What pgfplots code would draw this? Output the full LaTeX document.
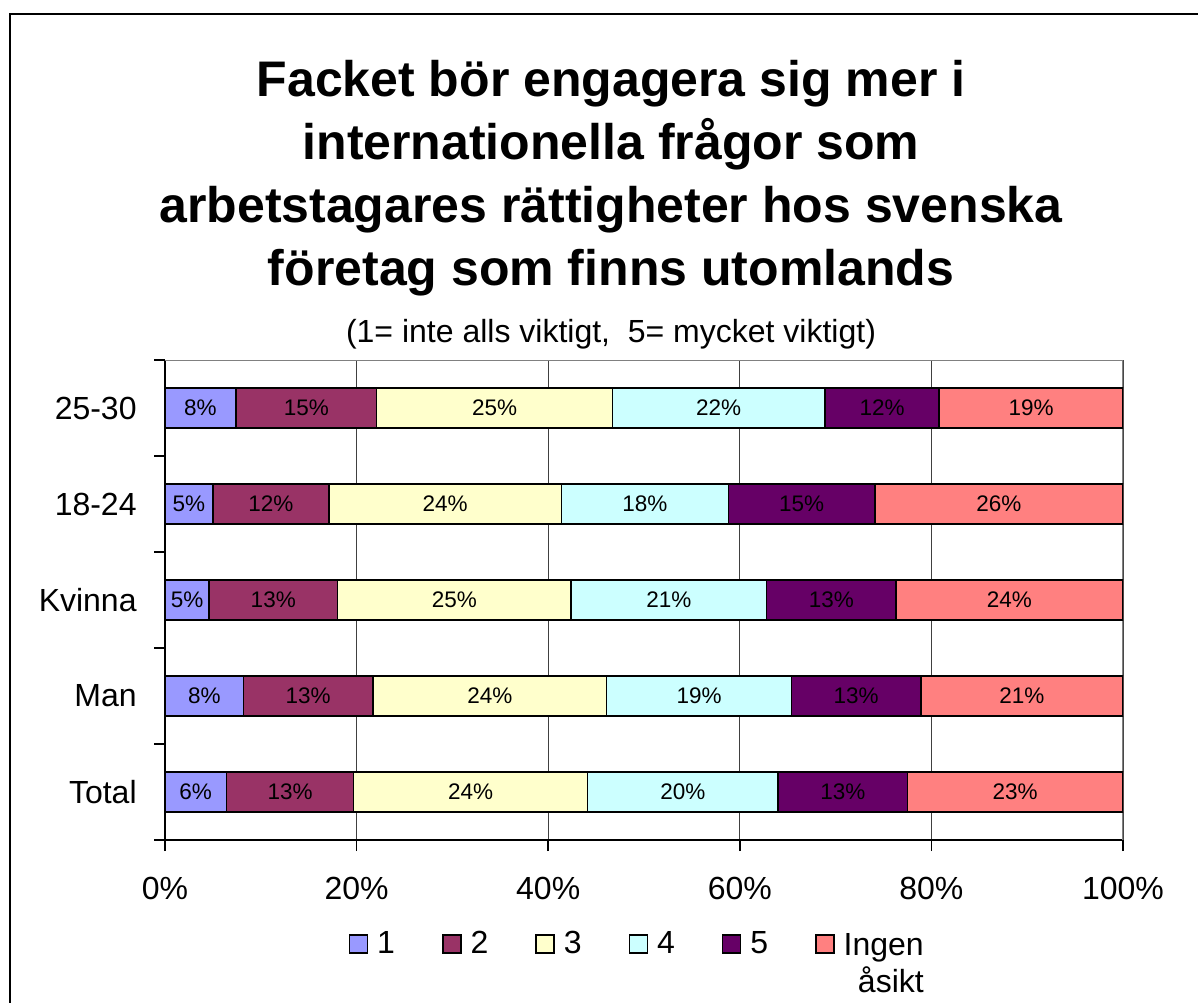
\documentclass[border=0pt]{standalone}
\usepackage{pgfplots}
\pgfplotsset{compat=1.18}
\usepackage{fontspec}
\setmainfont{Liberation Sans}
\definecolor{c1}{HTML}{9999FF}
\definecolor{c2}{HTML}{993366}
\definecolor{c3}{HTML}{FFFFCC}
\definecolor{c4}{HTML}{CCFFFF}
\definecolor{c5}{HTML}{660066}
\definecolor{c6}{HTML}{FF8080}
\definecolor{bordergray}{HTML}{808080}
\pgfplotsset{sqlegend/.style={legend image code/.code={\draw[##1,line width=0.75pt] (0pt,-4.5pt) rectangle (9pt,4.5pt);}}}
\newcommand{\titlefont}{\fontsize{25}{30}\selectfont\bfseries}
\newcommand{\bigfont}{\fontsize{16}{18.5}\selectfont}
\begin{document}
\begin{tikzpicture}
\useasboundingbox (0,0) rectangle (599pt,501pt);
\fill[white] (0,0) rectangle (599pt,501pt);
\draw[line width=1pt] (5pt,-10pt) -- (5pt,494pt) -- (620pt,494pt);
\node[anchor=base,inner sep=0pt,font=\titlefont] at (305.5pt,452.5pt) {Facket bör engagera sig mer i};
\node[anchor=base,inner sep=0pt,font=\titlefont] at (305.5pt,421pt) {internationella frågor som};
\node[anchor=base,inner sep=0pt,font=\titlefont] at (305.5pt,389.5pt) {arbetstagares rättigheter hos svenska};
\node[anchor=base,inner sep=0pt,font=\titlefont] at (305.5pt,358pt) {företag som finns utomlands};
\node[anchor=base,inner sep=0pt,font=\bigfont] at (305.5pt,329.5pt) {(1= inte alls viktigt,\ \ 5= mycket viktigt)};
\begin{axis}[
  at={(82.5pt,81pt)}, anchor=south west,
  scale only axis, width=479pt, height=240pt,
  xbar stacked, bar width=20pt,
  xmin=0, xmax=100, ymin=0, ymax=5,
  axis x line*=bottom, axis y line*=left,
  axis line style={line width=0.75pt, black},
  xtick={0,20,40,60,80,100},
  xticklabels={0\%,20\%,40\%,60\%,80\%,100\%},
  ytick={0,1,2,3,4,5},
  yticklabels={Total,Man,Kvinna,18-24,25-30},
  y tick label as interval,
  tick align=outside, major tick length=5.5pt,
  xtick style={black, line width=0.75pt},
  ytick style={black, line width=0.75pt},
  xmajorgrids, major x grid style={black!75, line width=0.5pt},
  tick label style={font=\bigfont},
  x tick label style={inner sep=0pt, yshift=-13pt},
  y tick label style={inner sep=0pt, xshift=-8.5pt},
  /pgf/number format/assume math mode=true,
  legend columns=6,
  legend style={at={(axis description cs:0.494,-0.178)}, anchor=north, draw=none, fill=none,
    inner sep=0pt, outer sep=0pt, font=\bigfont, column sep=2.5pt,
    /tikz/every even column/.append style={column sep=21.5pt}},
  legend cell align=left,
]
\addplot[fill=c1, draw=black, line width=0.75pt, sqlegend] coordinates {(6.4,0.5) (8.2,1.5) (4.6,2.5) (5.0,3.5) (7.4,4.5)};
\addlegendentry{1}
\addplot[fill=c2, draw=black, line width=0.75pt, sqlegend] coordinates {(13.3,0.5) (13.5,1.5) (13.4,2.5) (12.1,3.5) (14.7,4.5)};
\addlegendentry{2}
\addplot[fill=c3, draw=black, line width=0.75pt, sqlegend] coordinates {(24.4,0.5) (24.4,1.5) (24.4,2.5) (24.3,3.5) (24.6,4.5)};
\addlegendentry{3}
\addplot[fill=c4, draw=black, line width=0.75pt, sqlegend] coordinates {(19.9,0.5) (19.3,1.5) (20.4,2.5) (17.4,3.5) (22.2,4.5)};
\addlegendentry{4}
\addplot[fill=c5, draw=black, line width=0.75pt, sqlegend] coordinates {(13.5,0.5) (13.5,1.5) (13.5,2.5) (15.3,3.5) (11.9,4.5)};
\addlegendentry{5}
\addplot[fill=c6, draw=black, line width=0.75pt, sqlegend] coordinates {(22.5,0.5) (21.1,1.5) (23.7,2.5) (25.9,3.5) (19.2,4.5)};
\addlegendentry{\begin{tabular}[t]{@{}r@{}}Ingen\\åsikt\end{tabular}}
\draw[bordergray, line width=1pt] (rel axis cs:0,1) -- (rel axis cs:1,1) -- (rel axis cs:1,0);
\end{axis}
\begin{axis}[
  at={(82.5pt,81pt)}, anchor=south west,
  scale only axis, width=479pt, height=240pt,
  xmin=0, xmax=100, ymin=0, ymax=5,
  hide axis, clip=false,
]
\addplot[draw=none, mark=none, nodes near coords, point meta=explicit symbolic,
  every node near coord/.append style={anchor=center, inner sep=0pt, font=\fontsize{11.25}{13}\selectfont, text=black}]
  coordinates {
  (3.2,0.5) [6\%] (13.05,0.5) [13\%] (31.9,0.5) [24\%] (54.05,0.5) [20\%] (70.75,0.5) [13\%] (88.75,0.5) [23\%]
  (4.1,1.5) [8\%] (14.95,1.5) [13\%] (33.9,1.5) [24\%] (55.75,1.5) [19\%] (72.15,1.5) [13\%] (89.45,1.5) [21\%]
  (2.3,2.5) [5\%] (11.3,2.5) [13\%] (30.2,2.5) [25\%] (52.6,2.5) [21\%] (69.55,2.5) [13\%] (88.15,2.5) [24\%]
  (2.5,3.5) [5\%] (11.05,3.5) [12\%] (29.25,3.5) [24\%] (50.1,3.5) [18\%] (66.45,3.5) [15\%] (87.05,3.5) [26\%]
  (3.7,4.5) [8\%] (14.75,4.5) [15\%] (34.4,4.5) [25\%] (57.8,4.5) [22\%] (74.85,4.5) [12\%] (90.4,4.5) [19\%]
  };
\end{axis}
\end{tikzpicture}
\end{document}
